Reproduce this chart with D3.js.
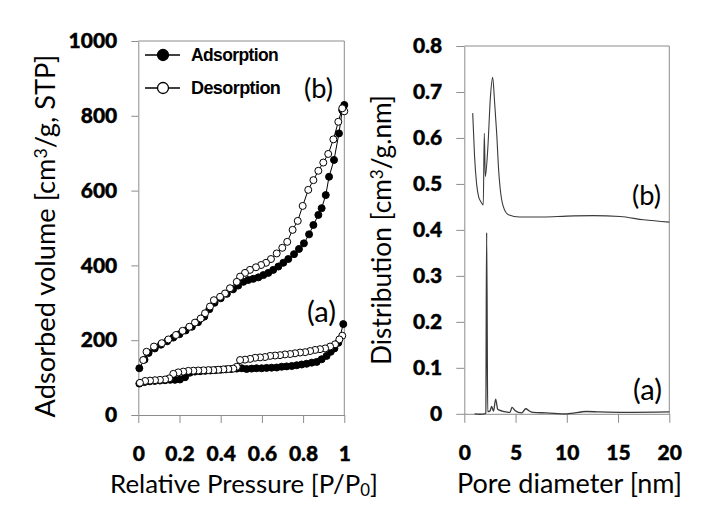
<!DOCTYPE html>
<html><head><meta charset="utf-8">
<script src="https://cdn.jsdelivr.net/npm/d3@7"></script>
<style>
html,body{margin:0;padding:0;background:#fff;}
svg{display:block;}
</style></head>
<body>
<svg id="chart" width="708" height="521"></svg>
<script>
// ---------- Data ----------
// Isotherm (b): adsorption / desorption  [P/P0, volume]
const adsB_P = [0.005,0.03,0.05,0.08,0.11,0.14,0.17,0.2,0.23,0.26,0.29,0.32,0.345,0.37,0.4,0.43,0.46,0.485,0.51,0.534,0.558,0.583,0.607,0.631,0.655,0.68,0.704,0.728,0.756,0.78,0.804,0.829,0.85,0.874,0.89,0.91,0.926,0.95,0.974,0.99,1.0];
const adsB_V = [125,148,166,178,188,197,207,216,226,236,248,263,283,300,312,324,336,346,356,361,364,368,374,380,388,397,407,417,430,444,459,483,508,535,553,588,637,682,753,815,829];
const desB_P = [1.0,0.99,0.971,0.947,0.922,0.898,0.874,0.85,0.825,0.798,0.774,0.749,0.723,0.699,0.672,0.644,0.62,0.596,0.571,0.542,0.518,0.494,0.478,0.445,0.421,0.397,0.367,0.348,0.324,0.303,0.275,0.248,0.215,0.183,0.146,0.114,0.076,0.04,0.024];
const desB_V = [812,820,784,737,698,675,653,628,602,559,519,495,463,447,432,417,407,401,395,388,380,370,356,339,325,316,307,290,272,258,247,236,225,214,202,192,183,169,147];
// Isotherm (a)
const adsA_P = [0.005,0.03,0.055,0.08,0.105,0.13,0.155,0.178,0.202,0.227,0.25,0.275,0.3,0.325,0.35,0.375,0.4,0.425,0.45,0.478,0.502,0.526,0.55,0.574,0.599,0.623,0.647,0.672,0.696,0.72,0.745,0.769,0.793,0.817,0.842,0.866,0.89,0.914,0.934,0.952,0.971,0.995];
const adsA_V = [84,88,90,91,92,93,94,94,95,101,113,116,117,118,119,120,121,122,123,124,125,123,124,125,125,126,126.5,127,129,130,131,133,135,137,140,142,149,158,169,178,193,243];
const desA_P = [0.99,0.976,0.955,0.931,0.907,0.882,0.858,0.834,0.81,0.785,0.761,0.737,0.712,0.688,0.664,0.64,0.615,0.591,0.567,0.543,0.518,0.494,0.478,0.461,0.437,0.413,0.388,0.364,0.34,0.316,0.291,0.267,0.243,0.218,0.194,0.17,0.15,0.13,0.105,0.081,0.057,0.033,0.008];
const desA_V = [212,202,189,183,178,176,174,171,168,167,165,163,162,160,159,158,155,154,153,150,148,147,129,124,123,122,121,120,120,119.5,119,118.5,118,116,114,110,98,95,94,93,92,91,86];
// Pore size distribution [nm, cm3/g.nm]
const psdB_D = [0.82,1.0,1.2,1.4,1.6,1.85,1.95,2.05,2.3,2.55,2.77,2.95,3.16,3.35,3.5,3.8,4.3,5.4,7.7,10,12.6,15.2,17.5,20];
const psdB_Y = [0.654,0.56,0.50,0.472,0.462,0.454,0.61,0.516,0.58,0.69,0.732,0.68,0.61,0.53,0.49,0.451,0.433,0.428,0.428,0.43,0.431,0.429,0.422,0.417];
const psdA_D = [1.0,1.5,2.0,2.1,2.18,2.28,2.5,2.67,2.85,3.06,3.26,3.7,4.1,4.46,4.65,4.95,5.27,5.6,6.0,6.35,6.7,8,10,11.9,13.2,15.8,20];
const psdA_Y = [0.0,-0.001,0.0,0.002,0.394,0.005,0.006,0.016,0.006,0.032,0.01,0.006,0.004,0.003,0.014,0.007,0.003,0.002,0.011,0.006,0.003,0.002,0.0,0.005,0.004,0.003,0.004];
// Ticks
const leftXTicks = [0,0.2,0.4,0.6,0.8,1];
const leftYTicks = [0,200,400,600,800,1000];
const rightXTicks = [0,5,10,15,20];
const rightYTicks = [0,0.1,0.2,0.3,0.4,0.5,0.6,0.7,0.8];
const legendLabels = ["Adsorption","Desorption"];

// ---------- Drawing ----------
const svg = d3.select("#chart");
const axisColor = "#8c8c8c";
const tickFont = "Lato, 'Open Sans', sans-serif";

const xL = d3.scaleLinear().domain([0,1]).range([138.3,344.3]);
const yL = d3.scaleLinear().domain([0,1000]).range([415,41]);
const xR = d3.scaleLinear().domain([0,20]).range([464.3,669.3]);
const yR = d3.scaleLinear().domain([0,0.8]).range([413.8,46]);

function fitText(sel, target){
  const n = sel.node();
  const fs = parseFloat(sel.attr("font-size"));
  const len = n.getComputedTextLength();
  sel.attr("font-size", fs*target/len);
}

function frame(x, y){
  const g = svg.append("g");
  g.append("line").attr("x1",x.range()[0]).attr("x2",x.range()[1]).attr("y1",y.range()[1]).attr("y2",y.range()[1]).attr("stroke",axisColor);
  g.append("line").attr("x1",x.range()[1]).attr("x2",x.range()[1]).attr("y1",y.range()[1]).attr("y2",y.range()[0]).attr("stroke",axisColor);
}

function styleAxis(g){
  g.selectAll("path,line").attr("stroke",axisColor);
  g.selectAll("text").attr("font-family",tickFont).attr("font-weight",900).attr("font-size",21).attr("fill","#000")
    .attr("stroke","#000").attr("stroke-width",0.4);
}

// Left plot frame & axes
frame(xL,yL);
svg.append("g").attr("transform",`translate(0,${yL(0)})`)
  .call(d3.axisBottom(xL).tickValues(leftXTicks).tickSize(8).tickSizeOuter(0).tickPadding(23).tickFormat(d=>d3.format("~g")(d)))
  .call(styleAxis);
svg.append("g").attr("transform",`translate(${xL(0)},0)`)
  .call(d3.axisLeft(yL).tickValues(leftYTicks).tickSize(7).tickSizeOuter(0).tickPadding(14).tickFormat(d3.format("d")))
  .call(styleAxis);

// Right plot frame & axes
frame(xR,yR);
svg.append("g").attr("transform",`translate(0,${yR(0)})`)
  .call(d3.axisBottom(xR).tickValues(rightXTicks).tickSize(9).tickSizeOuter(0).tickPadding(22).tickFormat(d3.format("d")))
  .call(styleAxis);
svg.append("g").attr("transform",`translate(${xR(0)},0)`)
  .call(d3.axisLeft(yR).tickValues(rightYTicks).tickSize(8).tickSizeOuter(0).tickPadding(14).tickFormat(d=>d3.format("~g")(d)))
  .call(styleAxis);

// Isotherms
const zip = (a,b)=>a.map((v,i)=>[v,b[i]]);
const lineL = d3.line().x(d=>xL(d[0])).y(d=>yL(d[1]));
const R = 3.5;
function series(P,V,filled){
  const data = zip(P,V);
  svg.append("path").attr("d",lineL(data)).attr("fill","none").attr("stroke","#000").attr("stroke-width",1);
  svg.append("g").selectAll("circle").data(data).join("circle")
    .attr("cx",d=>xL(d[0])).attr("cy",d=>yL(d[1])).attr("r",R)
    .attr("fill",filled?"#000":"#fff").attr("stroke","#000").attr("stroke-width",1);
}
series(adsB_P,adsB_V,true);
series(adsA_P,adsA_V,true);
series(desB_P,desB_V,false);
series(desA_P,desA_V,false);

// Legend
const legY = [55,88];
legendLabels.forEach((lab,i)=>{
  svg.append("line").attr("x1",145).attr("x2",180).attr("y1",legY[i]).attr("y2",legY[i]).attr("stroke","#000").attr("stroke-width",1.3);
  svg.append("circle").attr("cx",163).attr("cy",legY[i]).attr("r",5.5)
    .attr("fill",i===0?"#000":"#fff").attr("stroke","#000").attr("stroke-width",1.3);
  const t = svg.append("text").attr("x",191).attr("y",legY[i]).attr("dy","0.35em")
    .attr("font-family","'Liberation Sans', Arial, sans-serif").attr("font-weight","bold")
    .attr("font-size",17).attr("letter-spacing",-0.6).text(lab);
  fitText(t, i===0?87:89);
});

// PSD curves
const lineR = d3.line().x(d=>xR(d[0])).y(d=>yR(d[1])).curve(d3.curveMonotoneX);
svg.append("path").attr("d",lineR(zip(psdB_D,psdB_Y))).attr("fill","none").attr("stroke","#3a3a3a").attr("stroke-width",1.1);
svg.append("path").attr("d",lineR(zip(psdA_D,psdA_Y))).attr("fill","none").attr("stroke","#3a3a3a").attr("stroke-width",1.3);

// Panel labels
const labFont = "Lato, 'Open Sans', sans-serif";
[[304,88,"(b)"],[307,312,"(a)"],[632,195,"(b)"],[633,390,"(a)"]].forEach(([x,y,s])=>{
  const t = svg.append("text").attr("x",x).attr("y",y).attr("dy","0.35em")
    .attr("font-family",labFont).attr("font-size",23).text(s);
  fitText(t,29);
});

// Axis titles
function title(x,y,rot,parts,target){
  const t = svg.append("text").attr("text-anchor","middle")
    .attr("transform",`translate(${x},${y}) rotate(${rot})`)
    .attr("font-family",labFont).attr("font-size",22).attr("fill","#000");
  parts.forEach(p=>{
    const ts = t.append("tspan").text(p.t);
    if(p.sup) ts.attr("dy","-0.45em").attr("font-size","65%");
    if(p.sub) ts.attr("dy","0.2em").attr("font-size","65%");
    if(p.back) ts.attr("dy",p.back);
  });
  fitText(t,target);
}
title(244,493,0,[{t:"Relative Pressure [P/P"},{t:"0",sub:true},{t:"]",back:"-0.13em"}],268);
title(569.5,493,0,[{t:"Pore diameter [nm]"}],225);
title(55,236,-90,[{t:"Adsorbed volume [cm"},{t:"3",sup:true},{t:"/g, STP]",back:"0.29em"}],363);
title(391,230,-90,[{t:"Distribution [cm"},{t:"3",sup:true},{t:"/g.nm]",back:"0.29em"}],270);
</script>
</body></html>
